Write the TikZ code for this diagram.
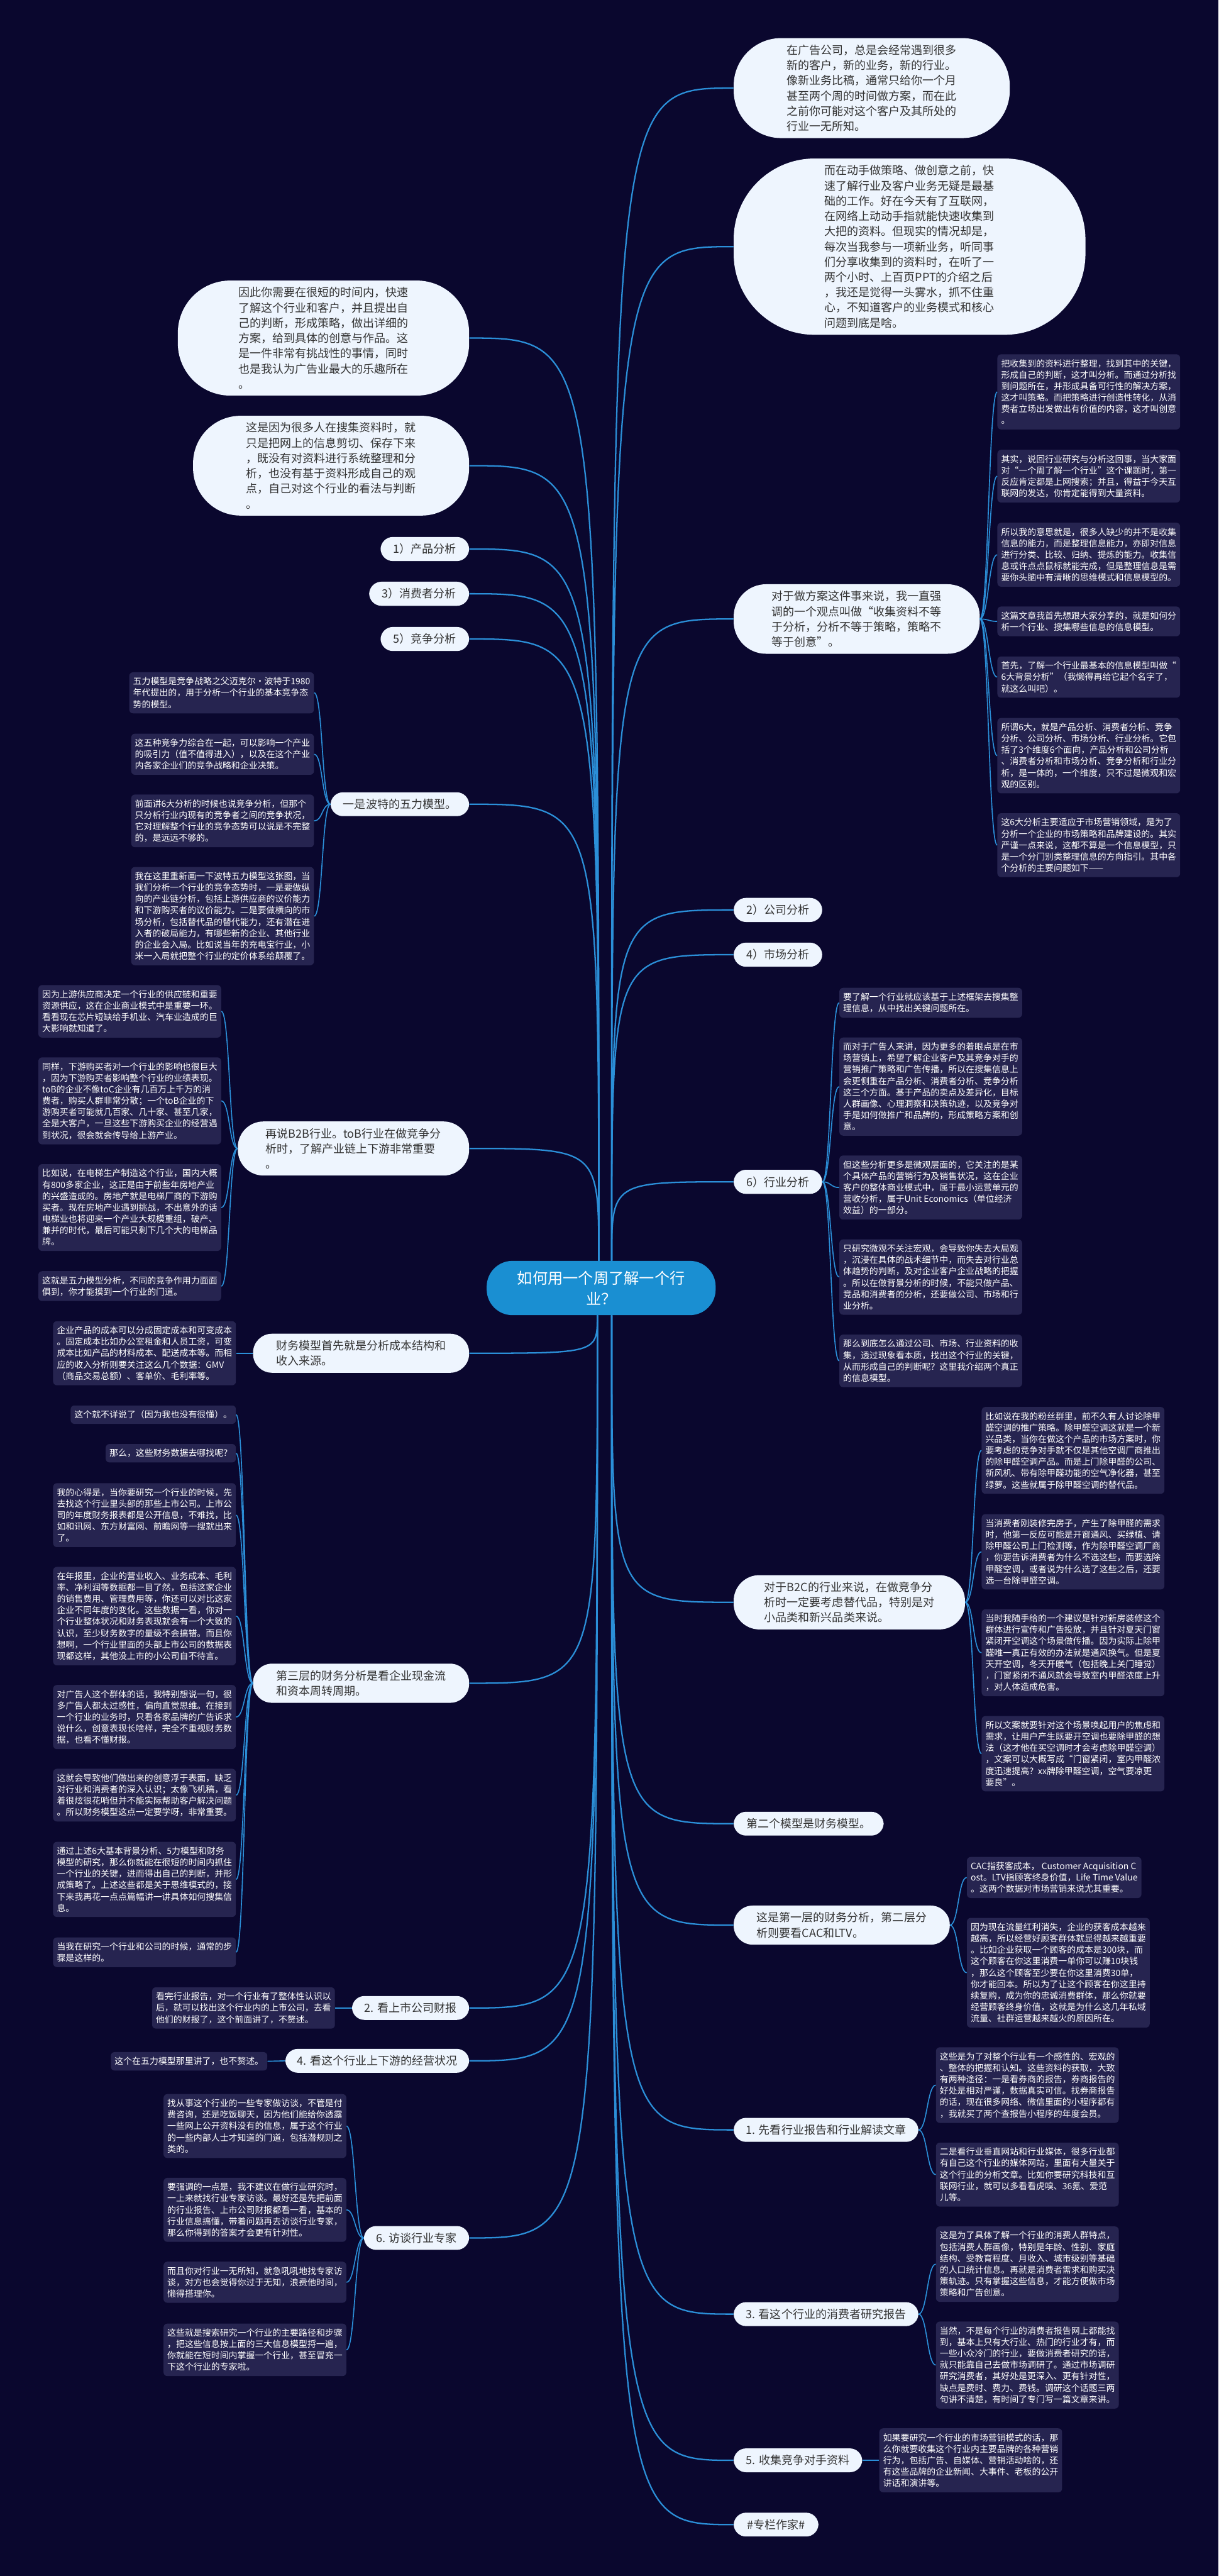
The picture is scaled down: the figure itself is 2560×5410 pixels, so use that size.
\documentclass[tikz,border=0pt]{standalone}
\usepackage{fontspec}
\setmainfont{Noto Sans CJK SC}
\usetikzlibrary{calc}
\definecolor{bgnavy}{HTML}{0A072E}
\definecolor{linkblue}{HTML}{2B8FD8}
\definecolor{bubfill}{HTML}{EEF5FE}
\definecolor{cardfill}{HTML}{262450}
\definecolor{rootblue}{HTML}{1A8FD2}
\definecolor{inkgray}{HTML}{333333}

\begin{document}
\begin{tikzpicture}[x=0.5pt, y=-0.5pt,
    bub/.style={fill=bubfill, text=inkgray, font=\fontsize{11.9pt}{16pt}\selectfont, align=left, inner xsep=8pt, inner ysep=7pt, rounded corners=#1},
    bub/.default=13pt,
    card/.style={fill=cardfill, text=white, font=\fontsize{9.2pt}{12pt}\selectfont, align=left, inner xsep=4pt, inner ysep=5.3pt, rounded corners=4pt},
    link/.style={linkblue, line width=1.5pt},
    sublink/.style={linkblue, line width=1.1pt}
]
\fill[bgnavy] (0,0) rectangle (2560,5410);

% root
\node[fill=rootblue, text=white, font=\fontsize{16pt}{21.5pt}\selectfont, align=center, minimum width=240.5pt, minimum height=57pt, rounded corners=27pt] (root) at (1263,2705) {如何用一个周了解一个行\\业？};
\coordinate (upL) at ($(root.north)+(-5,0)$);
\coordinate (upR) at ($(root.north)+(22,0)$);
\coordinate (dnL) at ($(root.south)+(-8,0)$);
\coordinate (dnR) at ($(root.south)+(22,0)$);

% right side, upper
\node[bub=50pt, minimum width=290pt, anchor=west] (adco) at (1541,185) {在广告公司，总是会经常遇到很多\\
新的客户，新的业务，新的行业。\\
像新业务比稿，通常只给你一个月\\
甚至两个周的时间做方案，而在此\\
之前你可能对这个客户及其所处的\\
行业一无所知。};
\node[bub=85pt, minimum width=369.5pt, anchor=west] (before) at (1541,518) {而在动手做策略、做创意之前，快\\
速了解行业及客户业务无疑是最基\\
础的工作。好在今天有了互联网，\\
在网络上动动手指就能快速收集到\\
大把的资料。但现实的情况却是，\\
每次当我参与一项新业务，听同事\\
们分享收集到的资料时，在听了一\\
两个小时、上百页PPT的介绍之后\\
，我还是觉得一头雾水，抓不住重\\
心，不知道客户的业务模式和核心\\
问题到底是啥。};
\node[bub=34pt, minimum width=258.5pt, anchor=west] (plan) at (1541,1300) {对于做方案这件事来说，我一直强\\
调的一个观点叫做“收集资料不等\\
于分析，分析不等于策略，策略不\\
等于创意”。};
\node[card, anchor=west] (plan1) at (2095,823) {把收集到的资料进行整理，找到其中的关键，\\
形成自己的判断，这才叫分析。而通过分析找\\
到问题所在，并形成具备可行性的解决方案，\\
这才叫策略。而把策略进行创造性转化，从消\\
费者立场出发做出有价值的内容，这才叫创意\\
。};
\node[card, anchor=west] (plan2) at (2095,1000) {其实，说回行业研究与分析这回事，当大家面\\
对“一个周了解一个行业”这个课题时，第一\\
反应肯定都是上网搜索；并且，得益于今天互\\
联网的发达，你肯定能得到大量资料。};
\node[card, anchor=west] (plan3) at (2095,1165) {所以我的意思就是，很多人缺少的并不是收集\\
信息的能力，而是整理信息能力，亦即对信息\\
进行分类、比较、归纳、提炼的能力。收集信\\
息或许点点鼠标就能完成，但是整理信息是需\\
要你头脑中有清晰的思维模式和信息模型的。};
\node[card, anchor=west] (plan4) at (2095,1305) {这篇文章我首先想跟大家分享的，就是如何分\\
析一个行业、搜集哪些信息的信息模型。};
\node[card, anchor=west] (plan5) at (2095,1422) {首先，了解一个行业最基本的信息模型叫做“\\
6大背景分析”（我懒得再给它起个名字了，\\
就这么叫吧）。};
\node[card, anchor=west] (plan6) at (2095,1587) {所谓6大，就是产品分析、消费者分析、竞争\\
分析、公司分析、市场分析、行业分析。它包\\
括了3个维度6个面向，产品分析和公司分析\\
、消费者分析和市场分析、竞争分析和行业分\\
析，是一体的，一个维度，只不过是微观和宏\\
观的区别。};
\node[card, anchor=west] (plan7) at (2095,1775) {这6大分析主要适应于市场营销领域，是为了\\
分析一个企业的市场策略和品牌建设的。其实\\
严谨一点来说，这都不算是一个信息模型，只\\
是一个分门别类整理信息的方向指引。其中各\\
个分析的主要问题如下——};
\node[bub, minimum width=93pt, anchor=west] (corp) at (1541,1911) {2）公司分析};
\node[bub, minimum width=93pt, anchor=west] (mkt) at (1541,2005) {4）市场分析};
\node[bub, minimum width=93pt, anchor=west] (ind) at (1541,2482) {6）行业分析};
\node[card, anchor=west] (ind1) at (1763,2106) {要了解一个行业就应该基于上述框架去搜集整\\
理信息，从中找出关键问题所在。};
\node[card, anchor=west] (ind2) at (1763,2282) {而对于广告人来讲，因为更多的着眼点是在市\\
场营销上，希望了解企业客户及其竞争对手的\\
营销推广策略和广告传播，所以在搜集信息上\\
会更侧重在产品分析、消费者分析、竞争分析\\
这三个方面。基于产品的卖点及差异化，目标\\
人群画像、心理洞察和决策轨迹，以及竞争对\\
手是如何做推广和品牌的，形成策略方案和创\\
意。};
\node[card, anchor=west] (ind3) at (1763,2494) {但这些分析更多是微观层面的，它关注的是某\\
个具体产品的营销行为及销售状况，这在企业\\
客户的整体商业模式中，属于最小运营单元的\\
营收分析，属于Unit Economics（单位经济\\
效益）的一部分。};
\node[card, anchor=west] (ind4) at (1763,2682) {只研究微观不关注宏观，会导致你失去大局观\\
，沉浸在具体的战术细节中，而失去对行业总\\
体趋势的判断，及对企业客户企业战略的把握\\
。所以在做背景分析的时候，不能只做产品、\\
竞品和消费者的分析，还要做公司、市场和行\\
业分析。};
\node[card, anchor=west] (ind5) at (1763,2858) {那么到底怎么通过公司、市场、行业资料的收\\
集，透过现象看本质，找出这个行业的关键，\\
从而形成自己的判断呢？这里我介绍两个真正\\
的信息模型。};

% right side, lower
\node[bub=27pt, minimum width=243pt, anchor=west] (btoc) at (1541,3365) {对于B2C的行业来说，在做竞争分\\
析时一定要考虑替代品，特别是对\\
小品类和新兴品类来说。};
\node[card, anchor=west] (btoc1) at (2062,3046) {比如说在我的粉丝群里，前不久有人讨论除甲\\
醛空调的推广策略。除甲醛空调这就是一个新\\
兴品类，当你在做这个产品的市场方案时，你\\
要考虑的竞争对手就不仅是其他空调厂商推出\\
的除甲醛空调产品。而是上门除甲醛的公司、\\
新风机、带有除甲醛功能的空气净化器，甚至\\
绿萝。这些就属于除甲醛空调的替代品。};
\node[card, anchor=west] (btoc2) at (2062,3259) {当消费者刚装修完房子，产生了除甲醛的需求\\
时，他第一反应可能是开窗通风、买绿植、请\\
除甲醛公司上门检测等，作为除甲醛空调厂商\\
，你要告诉消费者为什么不选这些，而要选除\\
甲醛空调，或者说为什么选了这些之后，还要\\
选一台除甲醛空调。};
\node[card, anchor=west] (btoc3) at (2062,3471) {当时我随手给的一个建议是针对新房装修这个\\
群体进行宣传和广告投放，并且针对夏天门窗\\
紧闭开空调这个场景做传播。因为实际上除甲\\
醛唯一真正有效的办法就是通风换气。但是夏\\
天开空调，冬天开暖气（包括晚上关门睡觉）\\
，门窗紧闭不通风就会导致室内甲醛浓度上升\\
，对人体造成危害。};
\node[card, anchor=west] (btoc4) at (2062,3683) {所以文案就要针对这个场景唤起用户的焦虑和\\
需求，让用户产生既要开空调也要除甲醛的想\\
法（这才他在买空调时才会考虑除甲醛空调）\\
，文案可以大概写成“门窗紧闭，室内甲醛浓\\
度迅速提高？xx牌除甲醛空调，空气要凉更\\
要良”。};
\node[bub, minimum width=157.5pt, anchor=west] (model2) at (1541,3830) {第二个模型是财务模型。};
\node[bub=20pt, minimum width=227pt, anchor=west] (layer1) at (1541,4043) {这是第一层的财务分析，第二层分\\
析则要看CAC和LTV。};
\node[card, anchor=west] (layer1a) at (2031,3943) {CAC指获客成本， Customer Acquisition C\\
ost。LTV指顾客终身价值，Life Time Value\\
。这两个数据对市场营销来说尤其重要。};
\node[card, anchor=west] (layer1b) at (2031,4143) {因为现在流量红利消失，企业的获客成本越来\\
越高，所以经营好顾客群体就显得越来越重要\\
。比如企业获取一个顾客的成本是300块，而\\
这个顾客在你这里消费一单你可以赚10块钱\\
，那么这个顾客至少要在你这里消费30单，\\
你才能回本。所以为了让这个顾客在你这里持\\
续复购，成为你的忠诚消费群体，那么你就要\\
经营顾客终身价值，这就是为什么这几年私域\\
流量、社群运营越来越火的原因所在。};
\node[bub, minimum width=194pt, anchor=west] (rep1) at (1541,4473) {1. 先看行业报告和行业解读文章};
\node[card, anchor=west] (rep1a) at (1966,4379) {这些是为了对整个行业有一个感性的、宏观的\\
、整体的把握和认知。这些资料的获取，大致\\
有两种途径：一是看券商的报告，券商报告的\\
好处是相对严谨，数据真实可信。找券商报告\\
的话，现在很多网络、微信里面的小程序都有\\
，我就买了两个查报告小程序的年度会员。};
\node[card, anchor=west] (rep1b) at (1966,4567) {二是看行业垂直网站和行业媒体，很多行业都\\
有自己这个行业的媒体网站，里面有大量关于\\
这个行业的分析文章。比如你要研究科技和互\\
联网行业，就可以多看看虎嗅、36氪、爱范\\
儿等。};
\node[bub, minimum width=194pt, anchor=west] (rep3) at (1541,4860) {3. 看这个行业的消费者研究报告};
\node[card, anchor=west] (rep3a) at (1966,4755) {这是为了具体了解一个行业的消费人群特点，\\
包括消费人群画像，特别是年龄、性别、家庭\\
结构、受教育程度、月收入、城市级别等基础\\
的人口统计信息。再就是消费者需求和购买决\\
策轨迹。只有掌握这些信息，才能方便做市场\\
策略和广告创意。};
\node[card, anchor=west] (rep3b) at (1966,4967) {当然，不是每个行业的消费者报告网上都能找\\
到，基本上只有大行业、热门的行业才有，而\\
一些小众冷门的行业，要做消费者研究的话，\\
就只能靠自己去做市场调研了。通过市场调研\\
研究消费者，其好处是更深入、更有针对性，\\
缺点是费时、费力、费钱。调研这个话题三两\\
句讲不清楚，有时间了专门写一篇文章来讲。};
\node[bub, minimum width=135pt, anchor=west] (rep5) at (1541,5167) {5. 收集竞争对手资料};
\node[card, anchor=west] (rep5a) at (1847,5167) {如果要研究一个行业的市场营销模式的话，那\\
么你就要收集这个行业内主要品牌的各种营销\\
行为，包括广告、自媒体、营销活动啥的，还\\
有这些品牌的企业新闻、大事件、老板的公开\\
讲话和演讲等。};
\node[bub, minimum width=89pt, anchor=west] (tag) at (1541,5302) {\#专栏作家\#};

% left side, upper
\node[bub=55pt, minimum width=306pt, anchor=east] (short) at (986,710) {因此你需要在很短的时间内，快速\\
了解这个行业和客户，并且提出自\\
己的判断，形成策略，做出详细的\\
方案，给到具体的创意与作品。这\\
是一件非常有挑战性的事情，同时\\
也是我认为广告业最大的乐趣所在\\
。};
\node[bub=50pt, minimum width=290pt, anchor=east] (why) at (986,978) {这是因为很多人在搜集资料时，就\\
只是把网上的信息剪切、保存下来\\
，既没有对资料进行系统整理和分\\
析，也没有基于资料形成自己的观\\
点，自己对这个行业的看法与判断\\
。};
\node[bub, minimum width=93pt, anchor=east] (prod) at (986,1153) {1）产品分析};
\node[bub, minimum width=105pt, anchor=east] (cons) at (986,1247) {3）消费者分析};
\node[bub, minimum width=93pt, anchor=east] (comp) at (986,1342) {5）竞争分析};
\node[bub, minimum width=145.5pt, anchor=east] (five) at (986,1689) {一是波特的五力模型。};
\node[card, anchor=east] (five1) at (660,1455) {五力模型是竞争战略之父迈克尔·波特于1980\\
年代提出的，用于分析一个行业的基本竞争态\\
势的模型。};
\node[card, anchor=east] (five2) at (660,1584) {这五种竞争力综合在一起，可以影响一个产业\\
的吸引力（值不值得进入），以及在这个产业\\
内各家企业们的竞争战略和企业决策。};
\node[card, anchor=east] (five3) at (660,1724) {前面讲6大分析的时候也说竞争分析，但那个\\
只分析行业内现有的竞争者之间的竞争状况，\\
它对理解整个行业的竞争态势可以说是不完整\\
的，是远远不够的。};
\node[card, anchor=east] (five4) at (660,1924) {我在这里重新画一下波特五力模型这张图，当\\
我们分析一个行业的竞争态势时，一是要做纵\\
向的产业链分析，包括上游供应商的议价能力\\
和下游购买者的议价能力。二是要做横向的市\\
场分析，包括替代品的替代能力，还有潜在进\\
入者的破局能力，有哪些新的企业、其他行业\\
的企业会入局。比如说当年的充电宝行业，小\\
米一入局就把整个行业的定价体系给颠覆了。};
\node[bub=27pt, minimum width=243pt, anchor=east] (btob) at (986,2412) {再说B2B行业。toB行业在做竞争分\\
析时，了解产业链上下游非常重要\\
。};
\node[card, anchor=east] (btob1) at (465,2124) {因为上游供应商决定一个行业的供应链和重要\\
资源供应，这在企业商业模式中是重要一环。\\
看看现在芯片短缺给手机业、汽车业造成的巨\\
大影响就知道了。};
\node[card, anchor=east] (btob2) at (465,2312) {同样，下游购买者对一个行业的影响也很巨大\\
，因为下游购买者影响整个行业的业绩表现。\\
toB的企业不像toC企业有几百万上千万的消\\
费者，购买人群非常分散；一个toB企业的下\\
游购买者可能就几百家、几十家、甚至几家，\\
全是大客户，一旦这些下游购买企业的经营遇\\
到状况，很会就会传导给上游产业。};
\node[card, anchor=east] (btob3) at (465,2536) {比如说，在电梯生产制造这个行业，国内大概\\
有800多家企业，这正是由于前些年房地产业\\
的兴盛造成的。房地产就是电梯厂商的下游购\\
买者。现在房地产业遇到挑战，不出意外的话\\
电梯业也将迎来一个产业大规模重组，破产、\\
兼并的时代，最后可能只剩下几个大的电梯品\\
牌。};
\node[card, anchor=east] (btob4) at (465,2701) {这就是五力模型分析，不同的竞争作用力面面\\
俱到，你才能摸到一个行业的门道。};

% left side, lower
\node[bub=20pt, minimum width=227pt, anchor=east] (fin) at (986,2842) {财务模型首先就是分析成本结构和\\
收入来源。};
\node[card, anchor=east] (fin1) at (496,2842) {企业产品的成本可以分成固定成本和可变成本\\
。固定成本比如办公室租金和人员工资，可变\\
成本比如产品的材料成本、配送成本等。而相\\
应的收入分析则要关注这么几个数据：GMV\\
（商品交易总额）、客单价、毛利率等。};
\node[bub=20pt, minimum width=227pt, anchor=east] (third) at (986,3535) {第三层的财务分析是看企业现金流\\
和资本周转周期。};
\node[card, anchor=east] (third1) at (496,2971) {这个就不详说了（因为我也没有很懂）。};
\node[card, anchor=east] (third2) at (496,3052) {那么，这些财务数据去哪找呢？};
\node[card, anchor=east] (third3) at (496,3182) {我的心得是，当你要研究一个行业的时候，先\\
去找这个行业里头部的那些上市公司。上市公\\
司的年度财务报表都是公开信息，不难找，比\\
如和讯网、东方财富网、前瞻网等一搜就出来\\
了。};
\node[card, anchor=east] (third4) at (496,3394) {在年报里，企业的营业收入、业务成本、毛利\\
率、净利润等数据都一目了然，包括这家企业\\
的销售费用、管理费用等，你还可以对比这家\\
企业不同年度的变化。这些数据一看，你对一\\
个行业整体状况和财务表现就会有一个大致的\\
认识，至少财务数字的量级不会搞错。而且你\\
想啊，一个行业里面的头部上市公司的数据表\\
现都这样，其他没上市的小公司自不待言。};
\node[card, anchor=east] (third5) at (496,3606) {对广告人这个群体的话，我特别想说一句，很\\
多广告人都太过感性，偏向直觉思维。在接到\\
一个行业的业务时，只看各家品牌的广告诉求\\
说什么，创意表现长啥样，完全不重视财务数\\
据，也看不懂财报。};
\node[card, anchor=east] (third6) at (496,3770) {这就会导致他们做出来的创意浮于表面，缺乏\\
对行业和消费者的深入认识；太像飞机稿，看\\
着很炫很花哨但并不能实际帮助客户解决问题\\
。所以财务模型这点一定要学呀，非常重要。};
\node[card, anchor=east] (third7) at (496,3947) {通过上述6大基本背景分析、5力模型和财务\\
模型的研究，那么你就能在很短的时间内抓住\\
一个行业的关键，进而得出自己的判断，并形\\
成策略了。上述这些都是关于思维模式的，接\\
下来我再花一点点篇幅讲一讲具体如何搜集信\\
息。};
\node[card, anchor=east] (third8) at (496,4100) {当我在研究一个行业和公司的时候，通常的步\\
骤是这样的。};
\node[bub, minimum width=123pt, anchor=east] (rep2) at (986,4217) {2. 看上市公司财报};
\node[card, anchor=east] (rep2a) at (704,4217) {看完行业报告，对一个行业有了整体性认识以\\
后，就可以找出这个行业内的上市公司，去看\\
他们的财报了，这个前面讲了，不赘述。};
\node[bub, minimum width=193pt, anchor=east] (rep4) at (986,4328) {4. 看这个行业上下游的经营状况};
\node[card, anchor=east] (rep4a) at (562,4329) {这个在五力模型那里讲了，也不赘述。};
\node[bub, minimum width=110.5pt, anchor=east] (rep6) at (986,4700) {6. 访谈行业专家};
\node[card, anchor=east] (rep6a) at (728,4465) {找从事这个行业的一些专家做访谈，不管是付\\
费咨询，还是吃饭聊天，因为他们能给你透露\\
一些网上公开资料没有的信息，属于这个行业\\
的一些内部人士才知道的门道，包括潜规则之\\
类的。};
\node[card, anchor=east] (rep6b) at (728,4641) {要强调的一点是，我不建议在做行业研究时，\\
一上来就找行业专家访谈。最好还是先把前面\\
的行业报告、上市公司财报都看一看，基本的\\
行业信息搞懂，带着问题再去访谈行业专家，\\
那么你得到的答案才会更有针对性。};
\node[card, anchor=east] (rep6c) at (728,4793) {而且你对行业一无所知，就急吼吼地找专家访\\
谈，对方也会觉得你过于无知，浪费他时间，\\
懒得搭理你。};
\node[card, anchor=east] (rep6d) at (728,4935) {这些就是搜索研究一个行业的主要路径和步骤\\
，把这些信息按上面的三大信息模型捋一遍，\\
你就能在短时间内掌握一个行业，甚至冒充一\\
下这个行业的专家啦。};

% root to first level
\draw[link] (upR) .. controls (upR |- adco.west) .. (adco.west);
\draw[link] (upR) .. controls (upR |- before.west) .. (before.west);
\draw[link] (upR) .. controls (upR |- plan.west) .. (plan.west);
\draw[link] (upR) .. controls (upR |- corp.west) .. (corp.west);
\draw[link] (upR) .. controls (upR |- mkt.west) .. (mkt.west);
\draw[link] (upR) .. controls (upR |- ind.west) .. (ind.west);
\draw[link] (dnR) .. controls (dnR |- btoc.west) .. (btoc.west);
\draw[link] (dnR) .. controls (dnR |- model2.west) .. (model2.west);
\draw[link] (dnR) .. controls (dnR |- layer1.west) .. (layer1.west);
\draw[link] (dnR) .. controls (dnR |- rep1.west) .. (rep1.west);
\draw[link] (dnR) .. controls (dnR |- rep3.west) .. (rep3.west);
\draw[link] (dnR) .. controls (dnR |- rep5.west) .. (rep5.west);
\draw[link] (dnR) .. controls (dnR |- tag.west) .. (tag.west);
\draw[link] (upL) .. controls (upL |- short.east) .. (short.east);
\draw[link] (upL) .. controls (upL |- why.east) .. (why.east);
\draw[link] (upL) .. controls (upL |- prod.east) .. (prod.east);
\draw[link] (upL) .. controls (upL |- cons.east) .. (cons.east);
\draw[link] (upL) .. controls (upL |- comp.east) .. (comp.east);
\draw[link] (upL) .. controls (upL |- five.east) .. (five.east);
\draw[link] (upL) .. controls (upL |- btob.east) .. (btob.east);
\draw[link] (dnL) .. controls (dnL |- fin.east) .. (fin.east);
\draw[link] (dnL) .. controls (dnL |- third.east) .. (third.east);
\draw[link] (dnL) .. controls (dnL |- rep2.east) .. (rep2.east);
\draw[link] (dnL) .. controls (dnL |- rep4.east) .. (rep4.east);
\draw[link] (dnL) .. controls (dnL |- rep6.east) .. (rep6.east);

% second level, right
\draw[sublink] (plan.east) .. controls +(18,0) and +(-18,0) .. (plan1.west);
\draw[sublink] (plan.east) .. controls +(18,0) and +(-18,0) .. (plan2.west);
\draw[sublink] (plan.east) .. controls +(18,0) and +(-18,0) .. (plan3.west);
\draw[sublink] (plan.east) .. controls +(18,0) and +(-18,0) .. (plan4.west);
\draw[sublink] (plan.east) .. controls +(18,0) and +(-18,0) .. (plan5.west);
\draw[sublink] (plan.east) .. controls +(18,0) and +(-18,0) .. (plan6.west);
\draw[sublink] (plan.east) .. controls +(18,0) and +(-18,0) .. (plan7.west);
\draw[sublink] (ind.east) .. controls +(18,0) and +(-18,0) .. (ind1.west);
\draw[sublink] (ind.east) .. controls +(18,0) and +(-18,0) .. (ind2.west);
\draw[sublink] (ind.east) .. controls +(18,0) and +(-18,0) .. (ind3.west);
\draw[sublink] (ind.east) .. controls +(18,0) and +(-18,0) .. (ind4.west);
\draw[sublink] (ind.east) .. controls +(18,0) and +(-18,0) .. (ind5.west);
\draw[sublink] (btoc.east) .. controls +(18,0) and +(-18,0) .. (btoc1.west);
\draw[sublink] (btoc.east) .. controls +(18,0) and +(-18,0) .. (btoc2.west);
\draw[sublink] (btoc.east) .. controls +(18,0) and +(-18,0) .. (btoc3.west);
\draw[sublink] (btoc.east) .. controls +(18,0) and +(-18,0) .. (btoc4.west);
\draw[sublink] (layer1.east) .. controls +(18,0) and +(-18,0) .. (layer1a.west);
\draw[sublink] (layer1.east) .. controls +(18,0) and +(-18,0) .. (layer1b.west);
\draw[sublink] (rep1.east) .. controls +(18,0) and +(-18,0) .. (rep1a.west);
\draw[sublink] (rep1.east) .. controls +(18,0) and +(-18,0) .. (rep1b.west);
\draw[sublink] (rep3.east) .. controls +(18,0) and +(-18,0) .. (rep3a.west);
\draw[sublink] (rep3.east) .. controls +(18,0) and +(-18,0) .. (rep3b.west);
\draw[sublink] (rep5.east) -- (rep5a.west);

% second level, left
\draw[sublink] (five.west) .. controls +(-18,0) and +(18,0) .. (five1.east);
\draw[sublink] (five.west) .. controls +(-18,0) and +(18,0) .. (five2.east);
\draw[sublink] (five.west) .. controls +(-18,0) and +(18,0) .. (five3.east);
\draw[sublink] (five.west) .. controls +(-18,0) and +(18,0) .. (five4.east);
\draw[sublink] (btob.west) .. controls +(-18,0) and +(18,0) .. (btob1.east);
\draw[sublink] (btob.west) .. controls +(-18,0) and +(18,0) .. (btob2.east);
\draw[sublink] (btob.west) .. controls +(-18,0) and +(18,0) .. (btob3.east);
\draw[sublink] (btob.west) .. controls +(-18,0) and +(18,0) .. (btob4.east);
\draw[sublink] (fin.west) -- (fin1.east);
\draw[sublink] (third.west) .. controls +(-18,0) and +(18,0) .. (third1.east);
\draw[sublink] (third.west) .. controls +(-18,0) and +(18,0) .. (third2.east);
\draw[sublink] (third.west) .. controls +(-18,0) and +(18,0) .. (third3.east);
\draw[sublink] (third.west) .. controls +(-18,0) and +(18,0) .. (third4.east);
\draw[sublink] (third.west) .. controls +(-18,0) and +(18,0) .. (third5.east);
\draw[sublink] (third.west) .. controls +(-18,0) and +(18,0) .. (third6.east);
\draw[sublink] (third.west) .. controls +(-18,0) and +(18,0) .. (third7.east);
\draw[sublink] (third.west) .. controls +(-18,0) and +(18,0) .. (third8.east);
\draw[sublink] (rep2.west) -- (rep2a.east);
\draw[sublink] (rep4.west) -- (rep4a.east);
\draw[sublink] (rep6.west) .. controls +(-18,0) and +(18,0) .. (rep6a.east);
\draw[sublink] (rep6.west) .. controls +(-18,0) and +(18,0) .. (rep6b.east);
\draw[sublink] (rep6.west) .. controls +(-18,0) and +(18,0) .. (rep6c.east);
\draw[sublink] (rep6.west) .. controls +(-18,0) and +(18,0) .. (rep6d.east);
\end{tikzpicture}
\end{document}
